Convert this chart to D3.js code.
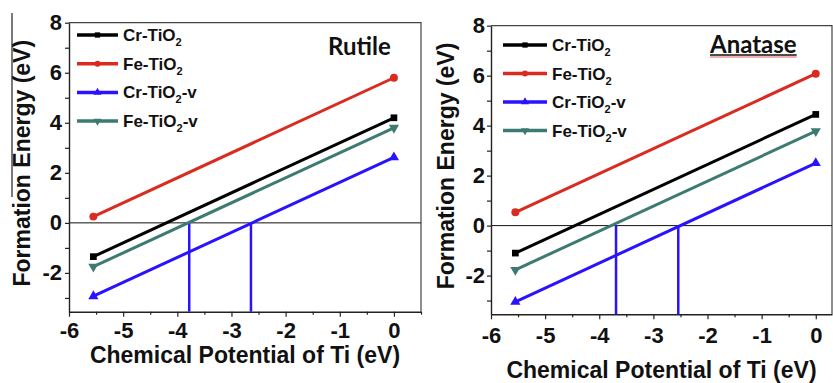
<!DOCTYPE html>
<html lang="en">
<head>
<meta charset="UTF-8">
<title>Formation energy vs chemical potential of Ti</title>
<script src="https://d3js.org/d3.v7.min.js"></script>
<style>
  body { margin: 0; background: #fff; }
  svg text { font-family: "Liberation Sans", Arial, sans-serif; }
</style>
</head>
<body>
<div id="chart"></div>
<script>
// ---- data ----
const muTi = [-5.55, 0];                       // x of the two end points
const seriesNames = ["Cr-TiO2", "Fe-TiO2", "Cr-TiO2-v", "Fe-TiO2-v"];
const seriesColors = ["#000000", "#d92b1f", "#2a12ff", "#3d7b72"];

// Rutile
const rutileCr   = [-1.35, 4.2];
const rutileFe   = [0.25, 5.8];
const rutileCrV  = [-2.93, 2.62];
const rutileFeV  = [-1.75, 3.8];
const rutileCut  = [-3.78, -2.64];             // vertical blue markers

// Anatase
const anataseCr  = [-1.1, 4.45];
const anataseFe  = [0.53, 6.08];
const anataseCrV = [-3.05, 2.5];
const anataseFeV = [-1.77, 3.78];
const anataseCut = [-3.69, -2.54];

const yTicks = d3.range(-3, 9, 1);

const W = 833, H = 383;
const svg = d3.select("#chart").append("svg")
    .attr("width", W).attr("height", H);

const symbols = [
  d3.symbol().type(d3.symbolSquare),
  d3.symbol().type(d3.symbolCircle),
  d3.symbol().type(d3.symbolTriangle),
  d3.symbol().type(d3.symbolTriangle)   // rotated for down triangle
];

function drawPanel(p) {
  const x = d3.scaleLinear().domain([-6, p.xMax]).range([p.left, p.right]);
  const y = d3.scaleLinear().domain([-3.55, 8]).range([p.bottom, p.top]);
  const g = svg.append("g");

  // frame (top + right)
  g.append("path")
      .attr("d", `M${p.left},${p.top}H${p.right}V${p.bottom}`)
      .attr("fill", "none").attr("stroke", "#444").attr("stroke-width", 1.2);

  // zero line
  g.append("line")
      .attr("x1", x(-6)).attr("x2", x(p.xMax))
      .attr("y1", y(0)).attr("y2", y(0))
      .attr("stroke", "#111").attr("stroke-width", 1);

  // y axis
  const ya = g.append("g")
      .attr("transform", `translate(${p.left},0)`)
      .call(d3.axisLeft(y).tickValues(yTicks).tickSize(4).tickSizeOuter(0)
        .tickPadding(p.yPad).tickFormat(d => d % 2 === 0 ? d : ""));
  // x axis
  const xa = g.append("g")
      .attr("transform", `translate(0,${p.bottom})`)
      .call(d3.axisBottom(x).tickValues(d3.range(-6, p.xMax + 0.01, 0.5))
        .tickSize(5).tickSizeOuter(0).tickPadding(p.xPad)
        .tickFormat(d => Number.isInteger(d) ? d : ""));
  xa.selectAll(".tick line").attr("y2", d => Number.isInteger(d) ? 5 : 3);
  [ya, xa].forEach(a => {
    a.attr("font-size", null).attr("font-family", null);
    a.select(".domain").attr("stroke", "#222").attr("stroke-width", 1.4);
    a.selectAll(".tick line").attr("stroke", "#222").attr("stroke-width", 1.2);
    a.selectAll("text").style("font-size", "22px").style("font-weight", "bold")
      .attr("fill", "#111");
  });

  // vertical blue cuts from 0 down to the axis
  g.selectAll(".cut").data(p.cuts).join("line")
      .attr("x1", d => x(d)).attr("x2", d => x(d))
      .attr("y1", y(0)).attr("y2", y(-3.55))
      .attr("stroke", seriesColors[2]).attr("stroke-width", 2.5);

  // series lines and end markers
  const line = d3.line().x((d, i) => x(muTi[i])).y(d => y(d));
  p.series.forEach((vals, s) => {
    g.append("path").attr("d", line(vals))
        .attr("fill", "none").attr("stroke", seriesColors[s]).attr("stroke-width", 3);
    g.selectAll(null).data(vals).join("path")
        .attr("d", symbols[s].size(s === 1 ? 50 : 45))
        .attr("transform", (d, i) =>
          `translate(${x(muTi[i])},${y(d)})` + (s === 3 ? " rotate(180)" : ""))
        .attr("fill", seriesColors[s]);
  });

  // legend
  seriesNames.forEach((name, s) => {
    const ly = p.legY + s * p.legStep;
    g.append("line")
        .attr("x1", p.legX).attr("x2", p.legX + p.legLen)
        .attr("y1", ly).attr("y2", ly)
        .attr("stroke", seriesColors[s]).attr("stroke-width", 3.5);
    g.append("path")
        .attr("d", symbols[s].size(28))
        .attr("transform", `translate(${p.legX + p.legLen / 2},${ly})` + (s === 3 ? " rotate(180)" : ""))
        .attr("fill", seriesColors[s]);
    const parts = name.split("TiO2");
    const t = g.append("text")
        .attr("x", p.legX + p.legLen + 5).attr("y", ly + 6)
        .style("font-size", "17px").style("font-weight", "bold").attr("fill", "#111");
    t.append("tspan").text(parts[0] + "TiO");
    t.append("tspan").style("font-size", "11px").attr("dy", 5).text("2");
    if (parts[1]) t.append("tspan").attr("dy", -5).text(parts[1]);
  });

  // panel title
  const title = g.append("text")
      .attr("x", p.titleX).attr("y", p.titleY)
      .style("font-family", "Lato, 'Open Sans', sans-serif")
      .style("font-size", "24px").style("font-weight", "bold").attr("fill", "#111")
      .text(p.title);
  if (p.underline) {
    const w = title.node().getComputedTextLength();
    g.append("line").attr("x1", p.titleX).attr("x2", p.titleX + w)
        .attr("y1", p.titleY + 2).attr("y2", p.titleY + 2)
        .attr("stroke", "#111").attr("stroke-width", 1.5);
    g.append("line").attr("x1", p.titleX).attr("x2", p.titleX + w)
        .attr("y1", p.titleY + 4).attr("y2", p.titleY + 4)
        .attr("stroke", "#e23a3a").attr("stroke-width", 0.8);
  }

  // axis titles
  g.append("text")
      .attr("transform", `translate(${p.yTitleX},${(p.top + p.bottom) / 2 - 4}) rotate(-90)`)
      .attr("text-anchor", "middle")
      .style("font-size", "23px").style("font-weight", "bold")
      .attr("fill", "#111").text("Formation Energy (eV)");
  g.append("text")
      .attr("x", (p.left + p.right) / 2).attr("y", p.xTitleY)
      .attr("text-anchor", "middle")
      .style("font-size", "23px").style("font-weight", "bold")
      .attr("fill", "#111").text("Chemical Potential of Ti (eV)");
}

drawPanel({
  title: "Rutile", underline: false, titleX: 328, titleY: 55,
  left: 69, right: 421, top: 22.7, bottom: 311.7, xMax: 0.5,
  yPad: 3, xPad: 6, yTitleX: 30, xTitleY: 363,
  legX: 77, legLen: 41, legY: 35, legStep: 28.7,
  series: [rutileCr, rutileFe, rutileCrV, rutileFeV], cuts: rutileCut
});

drawPanel({
  title: "Anatase", underline: true, titleX: 710, titleY: 53,
  left: 491, right: 832, top: 25.7, bottom: 314.3, xMax: 0.3,
  yPad: 2, xPad: 8.5, yTitleX: 454, xTitleY: 378,
  legX: 503, legLen: 44, legY: 45, legStep: 28.5,
  series: [anataseCr, anataseFe, anataseCrV, anataseFeV], cuts: anataseCut
});

// stray rule at the far left of the original figure
svg.append("line").attr("x1", 12).attr("x2", 12).attr("y1", 13).attr("y2", 197)
    .attr("stroke", "#222").attr("stroke-width", 1.2);
</script>
</body>
</html>
